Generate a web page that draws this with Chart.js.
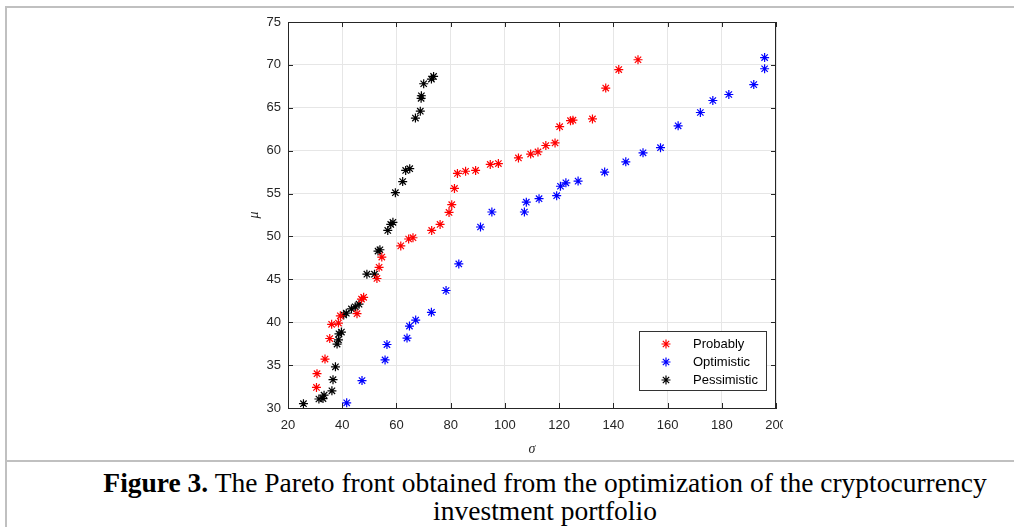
<!DOCTYPE html>
<html>
<head>
<meta charset="utf-8">
<script src="https://cdn.jsdelivr.net/npm/chart.js@4.4.1/dist/chart.umd.min.js"></script>
<style>
  html, body { margin: 0; padding: 0; background: #fff; overflow: hidden; width: 1014px; height: 527px; }
  .line { position: absolute; background: #c0c0c0; }
  #chartBox { position: absolute; left: 230px; top: 0; width: 553px; height: 460px; overflow: hidden; }
  #caption { position: absolute; left: 6px; top: 469px; width: 1078px; text-align: center;
    font-family: "Liberation Serif", "Times New Roman", serif; font-size: 27.5px; line-height: 28px; color: #000; }
</style>
</head>
<body>
<div class="line" style="left:5px;top:6px;width:1009px;height:2px"></div>
<div class="line" style="left:5px;top:6px;width:2px;height:521px"></div>
<div class="line" style="left:5px;top:460px;width:1009px;height:2px"></div>

<div id="chartBox"><canvas id="myChart" width="570" height="460"></canvas></div>

<div id="caption"><b>Figure 3.</b> The Pareto front obtained from the optimization of the cryptocurrency<br>investment portfolio</div>

<script>
// values (sigma on x, mu on y)
const probablySigma = [30.5, 30.7, 33.65, 35.4, 36.1, 38.6, 39.3, 45.45, 47.1, 47.9, 52.8, 53.6, 54.6, 61.6, 64.5, 66.1,
  73.0, 76.1, 79.4, 80.4, 81.4, 82.5, 85.5, 89.2, 94.6, 97.6, 105.0, 109.5, 112.2, 115.1, 118.5, 120.2,
  124.2, 125.1, 132.3, 137.2, 142.0, 149.1];
const probablyMu = [32.4, 34.0, 35.7, 38.1, 39.75, 39.9, 40.75, 41.0, 42.7, 42.9, 45.1, 46.4, 47.6, 48.9, 49.7, 49.85,
  50.7, 51.4, 52.8, 53.7, 55.6, 57.35, 57.6, 57.7, 58.4, 58.5, 59.15, 59.6, 59.85, 60.6, 60.9, 62.8,
  63.5, 63.55, 63.7, 67.3, 69.45, 70.6];

const optimisticSigma = [41.65, 47.3, 55.8, 56.5, 63.9, 64.8, 67.1, 72.9, 78.3, 83.0, 91.0, 95.2, 107.2, 107.9, 112.6,
  119.1, 120.5, 122.5, 127.0, 136.8, 144.6, 150.95, 157.4, 163.9, 172.1, 176.7, 182.6, 191.8, 195.8, 195.8];
const optimisticMu = [30.6, 33.2, 35.6, 37.4, 38.15, 39.55, 40.25, 41.15, 43.7, 46.8, 51.1, 52.85, 52.85, 54.0, 54.4,
  54.75, 55.85, 56.25, 56.45, 57.5, 58.7, 59.75, 60.35, 62.9, 64.45, 65.85, 66.55, 67.7, 69.55, 70.85];

const pessimisticSigma = [25.7, 31.4, 32.9, 33.3, 36.2, 36.6, 37.5, 38.1, 38.6, 38.8, 39.7, 40.55, 41.5, 43.4, 44.8, 46.2,
  49.1, 51.9, 53.2, 53.9, 56.8, 57.9, 58.7, 59.6, 62.3, 63.4, 64.9, 67.0, 68.8, 69.1, 69.2, 70.05, 72.9, 73.7];
const pessimisticMu = [30.5, 31.05, 31.1, 31.5, 32.0, 33.3, 34.8, 37.45, 37.95, 38.65, 38.85, 40.85, 41.05, 41.55, 41.8, 42.1,
  45.6, 45.6, 48.3, 48.45, 50.7, 51.4, 51.65, 55.1, 56.4, 57.7, 57.9, 63.8, 64.6, 66.1, 66.4, 67.8, 68.35, 68.65];

const seriesNames = ['Probably', 'Optimistic', 'Pessimistic'];
const seriesColors = ['#ff0000', '#0000ff', '#000000'];

// axis ranges / tick steps
const xMin = 20, xMax = 200, xStep = 20;
const yMin = 30, yMax = 75, yStep = 5;

function toPoints(xs, ys) {
  return xs.map((x, i) => ({ x: x, y: ys[i] }));
}

const axisColor = '#262626';
const tickFont = { family: '"Liberation Sans", Arial, sans-serif', size: 13 };

// top/right box lines and inward ticks, like the matlab axes
const boxPlugin = {
  id: 'boxPlugin',
  beforeDatasetsDraw(chart) {
    const ctx = chart.ctx;
    const a = chart.chartArea;
    const xs = chart.scales.x, ys = chart.scales.y;
    ctx.save();
    ctx.strokeStyle = axisColor;
    ctx.lineWidth = 1;
    ctx.beginPath();
    ctx.moveTo(a.left, a.top + 0.5);
    ctx.lineTo(a.right, a.top + 0.5);
    ctx.moveTo(a.right - 0.5, a.top);
    ctx.lineTo(a.right - 0.5, a.bottom);
    xs.ticks.forEach(t => {
      const px = Math.round(xs.getPixelForValue(t.value)) + 0.5;
      ctx.moveTo(px, a.bottom); ctx.lineTo(px, a.bottom - 5);
      ctx.moveTo(px, a.top); ctx.lineTo(px, a.top + 5);
    });
    ys.ticks.forEach(t => {
      const py = Math.round(ys.getPixelForValue(t.value)) + 0.5;
      ctx.moveTo(a.left, py); ctx.lineTo(a.left + 5, py);
      ctx.moveTo(a.right, py); ctx.lineTo(a.right - 5, py);
    });
    ctx.stroke();
    ctx.restore();
  }
};

// legend box inside the lower right corner
const legendPlugin = {
  id: 'legendPlugin',
  afterDraw(chart) {
    const ctx = chart.ctx;
    const a = chart.chartArea;
    const w = 127, h = 59;
    const left = a.right - 10 - w, top = a.bottom - 18 - h;
    ctx.save();
    ctx.fillStyle = '#fff';
    ctx.fillRect(left, top, w, h);
    ctx.strokeStyle = '#333';
    ctx.lineWidth = 1;
    ctx.strokeRect(Math.round(left) + 0.5, Math.round(top) + 0.5, w, h);
    ctx.font = '13px "Liberation Sans", Arial, sans-serif';
    ctx.textBaseline = 'middle';
    chart.data.datasets.forEach((ds, i) => {
      const y = top + 13 + i * 18;
      ctx.strokeStyle = ds.borderColor;
      ctx.lineWidth = 1.2;
      Chart.helpers.drawPoint(ctx, { pointStyle: 'star', radius: 4.5, rotation: 0, borderWidth: 1.2 }, left + 27, y);
      ctx.fillStyle = '#000';
      ctx.fillText(ds.label, left + 54, y);
    });
    ctx.restore();
  }
};

const ctx = document.getElementById('myChart').getContext('2d');
const lists = [
  toPoints(probablySigma, probablyMu),
  toPoints(optimisticSigma, optimisticMu),
  toPoints(pessimisticSigma, pessimisticMu)
];

new Chart(ctx, {
  type: 'scatter',
  data: {
    datasets: lists.map((pts, i) => ({
      label: seriesNames[i],
      data: pts,
      pointStyle: 'star',
      pointRadius: 4.5,
      pointBorderWidth: 1.2,
      borderColor: seriesColors[i],
      backgroundColor: seriesColors[i]
    }))
  },
  options: {
    responsive: false,
    animation: false,
    layout: { padding: { top: 22, right: 24, left: 0, bottom: 0 } },
    plugins: { legend: { display: false }, tooltip: { enabled: false } },
    scales: {
      x: {
        type: 'linear', min: xMin, max: xMax,
        ticks: { stepSize: xStep, font: tickFont, color: axisColor, padding: 10, maxRotation: 0 },
        grid: { color: '#e6e6e6', drawTicks: false },
        border: { color: axisColor },
        title: { display: true, text: 'σ', color: axisColor,
          font: { family: '"Liberation Serif", "Times New Roman", serif', size: 14, style: 'italic' },
          padding: { top: 0, bottom: 2 } },
        afterFit: s => { s.height = 52; }
      },
      y: {
        type: 'linear', min: yMin, max: yMax,
        ticks: { stepSize: yStep, font: tickFont, color: axisColor, padding: 7 },
        grid: { color: '#e6e6e6', drawTicks: false },
        border: { color: axisColor },
        title: { display: true, text: 'μ', color: axisColor,
          font: { family: '"Liberation Serif", "Times New Roman", serif', size: 14, style: 'italic' },
          padding: { top: 16, bottom: 0 } },
        afterFit: s => { s.width = 58; }
      }
    }
  },
  plugins: [boxPlugin, legendPlugin]
});
</script>
</body>
</html>
